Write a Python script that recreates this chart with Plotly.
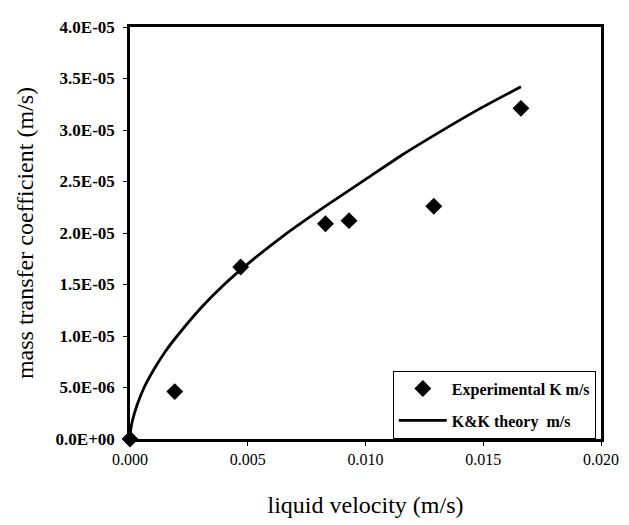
import plotly.graph_objects as go

# Experimental data
exp_velocity = [0.0, 0.0019, 0.0047, 0.0083, 0.0093, 0.0129, 0.0166]
exp_k = [0.0, 4.6e-6, 1.67e-5, 2.09e-5, 2.12e-5, 2.26e-5, 3.21e-5]

# K&K theory curve
theory_velocity = [0.0, 0.00003, 0.0001, 0.0003, 0.0006, 0.001, 0.0015, 0.002, 0.003, 0.004,
                   0.005, 0.0065, 0.0083, 0.010, 0.0115, 0.013, 0.0148, 0.0166]
theory_k = [0.0, 0.9e-6, 1.75e-6, 3.3e-6, 5.0e-6, 6.7e-6, 8.5e-6, 10.0e-6, 12.7e-6, 15.0e-6,
            17.0e-6, 19.7e-6, 22.6e-6, 25.2e-6, 27.5e-6, 29.6e-6, 32.0e-6, 34.2e-6]

x_ticks = [0.0, 0.005, 0.010, 0.015, 0.020]
x_tick_labels = ["0.000", "0.005", "0.010", "0.015", "0.020"]
y_ticks = [0, 5e-6, 1e-5, 1.5e-5, 2e-5, 2.5e-5, 3e-5, 3.5e-5, 4e-5]
y_tick_labels = ["0.0E+00", "5.0E-06", "1.0E-05", "1.5E-05", "2.0E-05",
                 "2.5E-05", "3.0E-05", "3.5E-05", "4.0E-05"]

serif = "Liberation Serif, Times New Roman, serif"

fig = go.Figure()
fig.add_trace(go.Scatter(
    x=theory_velocity, y=theory_k, mode="lines", name="K&K theory  m/s",
    line=dict(color="black", width=2.8, shape="spline", smoothing=0.6),
    legendgroup="b", legendrank=2,
))
fig.add_trace(go.Scatter(
    x=exp_velocity, y=exp_k, mode="markers", name="Experimental K m/s",
    marker=dict(symbol="diamond", size=13, color="black"),
    legendgroup="a", legendrank=1, cliponaxis=False,
))

# page body has an 8px default margin, so the figure is 8px smaller than the window
fig.update_layout(
    width=621, height=517,
    margin=dict(l=122, r=22, t=10, b=79),
    paper_bgcolor="white", plot_bgcolor="white",
    font=dict(family=serif, color="black"),
    showlegend=True,
    legend=dict(
        x=0.558, y=0.166, xanchor="left", yanchor="top",
        bordercolor="black", borderwidth=1, bgcolor="white",
        font=dict(family=serif, size=16, color="black", weight="bold"),
        traceorder="grouped", tracegroupgap=8, itemwidth=48,
    ),
    xaxis=dict(
        range=[0, 0.020], tickvals=x_ticks, ticktext=x_tick_labels,
        showgrid=False, zeroline=False, showline=True, linecolor="black",
        linewidth=2.5, mirror=True, ticks="outside", ticklen=4, tickcolor="black",
        tickfont=dict(family=serif, size=16, color="black"),
        title=dict(text="liquid velocity (m/s)", font=dict(family=serif, size=24), standoff=30),
    ),
    yaxis=dict(
        range=[0, 4e-5], tickvals=y_ticks, ticktext=y_tick_labels,
        showgrid=False, zeroline=False, showline=True, linecolor="black",
        linewidth=2.5, mirror=True, ticks="outside", ticklen=4, tickcolor="black",
        ticklabelstandoff=5,
        tickfont=dict(family=serif, size=17, color="black", weight="bold"),
        title=dict(text="mass transfer coefficient (m/s)", font=dict(family=serif, size=24), standoff=16),
    ),
)

fig.write_html("out.html")
